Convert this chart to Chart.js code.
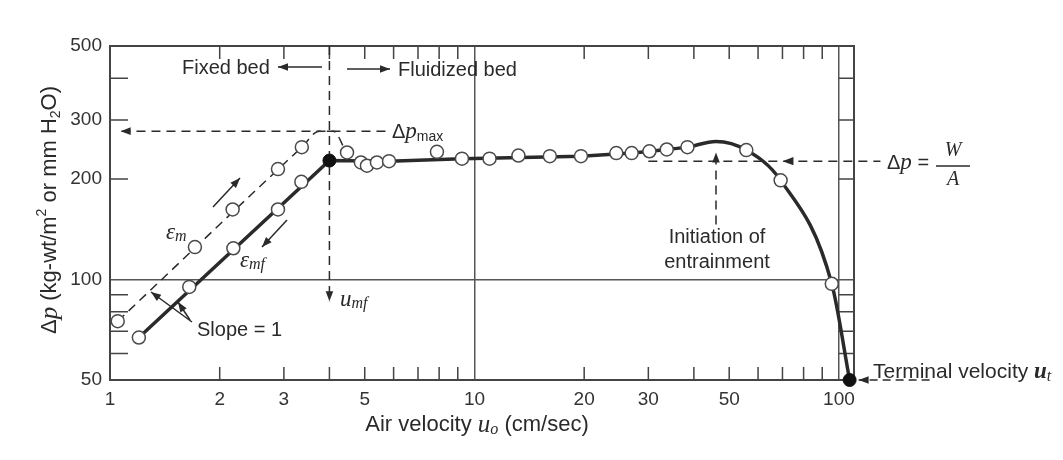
<!DOCTYPE html>
<html>
<head>
<meta charset="utf-8">
<script src="https://cdn.jsdelivr.net/npm/chart.js@4.4.1/dist/chart.umd.min.js"></script>
<style>
  html, body { margin: 0; padding: 0; background: #fff; }
</style>
</head>
<body>
<canvas id="myChart" width="1063" height="460"></canvas>
<script>
// axis labels and minor (inward) tick positions
var xTicks = [1, 2, 3, 5, 10, 20, 30, 50, 100];
var yTicks = [50, 100, 200, 300, 500];
var xMinor = [2, 3, 4, 5, 6, 7, 8, 9, 20, 30, 40, 50, 60, 70, 80, 90];
var yMinor = [60, 70, 80, 90, 200, 300, 400];

// fixed bed, decreasing velocity (eps_mf) - open circles
var downX = [1.2, 1.65, 2.18, 2.89, 3.35];
var downY = [67, 95, 124, 162, 196];
// fixed bed, increasing velocity (eps_m) - open circles
var upX = [1.05, 1.71, 2.17, 2.89, 3.36, 4.47];
var upY = [75, 125, 162, 214, 249, 240];
// fluidized bed - open circles
var fluidX = [4.88, 5.07, 5.4, 5.83, 7.89, 9.24, 11.0, 13.2, 16.1, 19.6, 24.5, 27.0, 30.2, 33.7, 38.4, 55.7, 69.2, 95.6];
var fluidY = [224, 219, 224, 226, 241, 230, 230, 235, 234, 234, 239, 239, 242, 245, 249, 244, 198, 97];

// solid curve: straight part, then the rounded part at entrainment
var lineX = [1.2, 4.0, 5.83, 9.24, 19.6, 27.0];
var lineY = [67, 227, 226, 230, 234, 239];
var curveX = [27.0, 33.7, 38.4, 46, 55.7, 69.2, 95.6, 107];
var curveY = [239, 245, 249, 259, 244, 198, 97, 50];
// dashed curve (eps_m)
var dashX = [1.05, 3.36, 3.75, 4.1, 4.47, 4.9];
var dashY = [75, 249, 278, 278, 240, 224];

// filled points: u_mf and terminal velocity u_t
var filledX = [4.0, 107];
var filledY = [227, 50];

var umf = 4.0;
var dpMax = 278;
var dpWA = 226;
var entrainX = 46;

var SANS = '"Liberation Sans", Arial, sans-serif';
var SERIF = '"Liberation Serif", "DejaVu Serif", serif';
var INK = '#2a2a2a';

function pts(xs, ys) {
  return xs.map(function (x, i) { return { x: x, y: ys[i] }; });
}

function arrowHead(c, x, y, ang, size) {
  c.save();
  c.translate(x, y);
  c.rotate(ang);
  c.beginPath();
  c.moveTo(0, 0);
  c.lineTo(-size, -size * 0.38);
  c.lineTo(-size, size * 0.38);
  c.closePath();
  c.fill();
  c.restore();
}

// line with a head at (x2, y2)
function arrow(c, x1, y1, x2, y2, dash) {
  c.save();
  c.setLineDash(dash || []);
  c.beginPath();
  c.moveTo(x1, y1);
  c.lineTo(x2, y2);
  c.stroke();
  c.restore();
  arrowHead(c, x2, y2, Math.atan2(y2 - y1, x2 - x1), 10);
}

function runs(c, x, y, parts, align) {
  var w = 0;
  parts.forEach(function (p) { c.font = p.f; w += c.measureText(p.t).width; });
  if (align === 'center') x -= w / 2;
  c.textAlign = 'left';
  c.textBaseline = 'middle';
  parts.forEach(function (p) {
    c.font = p.f;
    c.fillText(p.t, x, y + (p.dy || 0));
    x += c.measureText(p.t).width;
  });
}

var F = '20px ' + SANS;
var FI = 'italic 23px ' + SERIF;
var FS = '14px ' + SANS;
var FSI = 'italic 16px ' + SERIF;
var FT = '22px ' + SANS;
var FTI = 'italic 25px ' + SERIF;

var figure = {
  id: 'figure',
  beforeDatasetsDraw: function (chart) {
    var c = chart.ctx, a = chart.chartArea, xs = chart.scales.x, ys = chart.scales.y;
    c.save();
    c.strokeStyle = '#444';
    c.lineWidth = 2;
    c.strokeRect(a.left, a.top, a.right - a.left, a.bottom - a.top);

    // inward ticks
    c.lineWidth = 1.5;
    c.beginPath();
    xMinor.forEach(function (v) {
      var x = xs.getPixelForValue(v);
      c.moveTo(x, a.bottom); c.lineTo(x, a.bottom - 13);
      c.moveTo(x, a.top); c.lineTo(x, a.top + 13);
    });
    var x100 = xs.getPixelForValue(100);
    yMinor.forEach(function (v) {
      var y = ys.getPixelForValue(v);
      c.moveTo(a.left, y); c.lineTo(a.left + 18, y);
      c.moveTo(a.right, y); c.lineTo(x100, y);
    });
    c.stroke();

    // reference lines
    c.strokeStyle = INK;
    c.fillStyle = INK;
    c.lineWidth = 1.5;
    var dash = [9, 6];
    var xu = xs.getPixelForValue(umf);
    arrow(c, xu, a.top, xu, ys.getPixelForValue(86), dash);

    arrow(c, xs.getPixelForValue(5.7), ys.getPixelForValue(dpMax),
      xs.getPixelForValue(1.07), ys.getPixelForValue(dpMax), dash);

    var yw = ys.getPixelForValue(dpWA);
    c.save();
    c.setLineDash(dash);
    c.beginPath();
    c.moveTo(xs.getPixelForValue(30), yw);
    c.lineTo(xs.getPixelForValue(130), yw);
    c.stroke();
    c.restore();
    arrowHead(c, xs.getPixelForValue(70), yw, Math.PI, 11);

    var xe = xs.getPixelForValue(entrainX);
    arrow(c, xe, ys.getPixelForValue(146), xe, ys.getPixelForValue(240), dash);

    var xt = xs.getPixelForValue(filledX[1]), yt = ys.getPixelForValue(filledY[1]);
    arrow(c, xt + 80, yt, xt + 9, yt, [8, 5]);
    c.restore();
  },
  afterDatasetsDraw: function (chart) {
    var c = chart.ctx;
    c.save();
    c.fillStyle = INK;
    c.strokeStyle = INK;
    c.lineWidth = 1.5;

    runs(c, 182, 68, [{ t: 'Fixed bed', f: F }]);
    arrow(c, 322, 67, 278, 67);
    arrow(c, 347, 69, 390, 69);
    runs(c, 398, 70, [{ t: 'Fluidized bed', f: F }]);

    runs(c, 340, 300, [{ t: 'u', f: FI }, { t: 'mf', f: FSI, dy: 4 }]);
    runs(c, 392, 132, [{ t: '\u0394', f: F }, { t: 'p', f: FI }, { t: 'max', f: FS, dy: 5 }]);

    runs(c, 166, 233, [{ t: '\u03b5', f: FI }, { t: 'm', f: FSI, dy: 4 }]);
    runs(c, 240, 261, [{ t: '\u03b5', f: FI }, { t: 'mf', f: FSI, dy: 4 }]);
    arrow(c, 213, 207, 240, 178);
    arrow(c, 287, 220, 262, 247);

    runs(c, 197, 330, [{ t: 'Slope = 1', f: F }]);
    arrow(c, 192, 322, 151, 292);
    arrow(c, 190, 320, 178, 302);

    runs(c, 887, 163, [{ t: '\u0394', f: F }, { t: 'p', f: FI }, { t: ' = ', f: F }]);
    runs(c, 953, 151, [{ t: 'W', f: 'italic 20px ' + SERIF }], 'center');
    c.beginPath();
    c.moveTo(936, 166); c.lineTo(970, 166);
    c.stroke();
    runs(c, 953, 180, [{ t: 'A', f: 'italic 20px ' + SERIF }], 'center');

    runs(c, 717, 237, [{ t: 'Initiation of', f: F }], 'center');
    runs(c, 717, 262, [{ t: 'entrainment', f: F }], 'center');

    runs(c, 873, 372, [{ t: 'Terminal velocity ', f: '21px ' + SANS }, { t: 'u', f: 'italic bold 23px ' + SERIF }, { t: 't', f: FSI, dy: 5 }]);

    runs(c, 477, 425, [{ t: 'Air velocity ', f: FT }, { t: 'u', f: FTI }, { t: 'o', f: FSI, dy: 5 }, { t: ' (cm/sec)', f: FT }], 'center');

    c.translate(50, 210);
    c.rotate(-Math.PI / 2);
    runs(c, 0, 0, [
      { t: '\u0394', f: FT }, { t: 'p', f: FTI }, { t: ' (kg-wt/m', f: FT }, { t: '2', f: FS, dy: -8 },
      { t: ' or mm H', f: FT }, { t: '2', f: FS, dy: 6 }, { t: 'O)', f: FT }
    ], 'center');
    c.restore();
  }
};

var circle = {
  showLine: false,
  order: 1,
  pointRadius: 6.5,
  pointBackgroundColor: '#fff',
  pointBorderColor: '#4a4a4a',
  pointBorderWidth: 1.5,
  clip: false
};

var myChart = new Chart(document.getElementById('myChart').getContext('2d'), {
  type: 'line',
  data: {
    datasets: [
      { data: pts(lineX, lineY), order: 3, borderColor: INK, borderWidth: 3.5, pointRadius: 0, tension: 0 },
      { data: pts(curveX, curveY), order: 3, borderColor: INK, borderWidth: 3.5, pointRadius: 0, cubicInterpolationMode: 'monotone', clip: false },
      { data: pts(dashX, dashY), order: 3, borderColor: INK, borderWidth: 1.5, borderDash: [9, 6], pointRadius: 0, cubicInterpolationMode: 'monotone' },
      Object.assign({ data: pts(downX, downY) }, circle),
      Object.assign({ data: pts(upX, upY) }, circle),
      Object.assign({ data: pts(fluidX, fluidY) }, circle),
      { data: pts(filledX, filledY), order: 0, showLine: false, pointRadius: 6.5, pointBackgroundColor: '#111', pointBorderColor: '#111', clip: false }
    ]
  },
  options: {
    responsive: false,
    animation: false,
    layout: { padding: { top: 46, right: 209, left: 0, bottom: 0 } },
    plugins: { legend: { display: false }, tooltip: { enabled: false } },
    scales: {
      x: {
        type: 'logarithmic',
        min: 1,
        max: 110,
        afterBuildTicks: function (s) { s.ticks = xTicks.map(function (v) { return { value: v }; }); },
        afterFit: function (s) { s.height = 80; },
        ticks: {
          autoSkip: false, maxRotation: 0, padding: 8, color: '#333',
          font: { family: SANS, size: 19 },
          callback: function (v) { return String(v); }
        },
        grid: {
          drawTicks: false,
          lineWidth: 1.5,
          color: function (c) { return c.tick && (c.tick.value === 10 || c.tick.value === 100) ? '#555' : 'rgba(0,0,0,0)'; }
        },
        border: { display: false }
      },
      y: {
        type: 'logarithmic',
        min: 50,
        max: 500,
        afterBuildTicks: function (s) { s.ticks = yTicks.map(function (v) { return { value: v }; }); },
        afterFit: function (s) { s.width = 110; },
        ticks: {
          autoSkip: false, padding: 8, color: '#333',
          font: { family: SANS, size: 19 },
          callback: function (v) { return String(v); }
        },
        grid: {
          drawTicks: false,
          lineWidth: 1.5,
          color: function (c) { return c.tick && c.tick.value === 100 ? '#555' : 'rgba(0,0,0,0)'; }
        },
        border: { display: false }
      }
    }
  },
  plugins: [figure]
});
</script>
</body>
</html>
